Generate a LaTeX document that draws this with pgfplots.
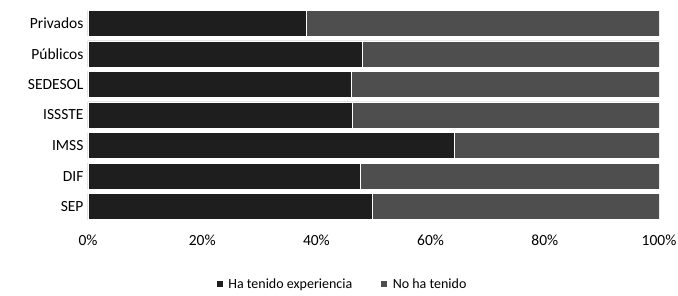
\documentclass[border=0pt]{standalone}
\usepackage{pgfplots}
\pgfplotsset{compat=1.18}
\usepackage{fontspec}
\setmainfont{Carlito}
\definecolor{serA}{HTML}{1E1E1E}
\definecolor{serB}{HTML}{4E4E4E}
\begin{document}
\begin{tikzpicture}
\path[use as bounding box] (-88pt,-74pt) rectangle (590pt,222pt);
\begin{axis}[
  at={(0pt,0pt)}, anchor=south west,
  scale only axis, width=571pt, height=214pt,
  xbar stacked, bar width=26pt,
  xmin=0, xmax=100, ymin=-0.5, ymax=6.5,
  ytick={0,1,2,3,4,5,6},
  yticklabels={SEP,DIF,IMSS,ISSSTE,SEDESOL,Públicos,Privados},
  xtick={0,20,40,60,80,100},
  xticklabels={0\%,20\%,40\%,60\%,80\%,100\%},
  axis line style={draw=none}, tick style={draw=none},
  yticklabel style={font=\fontsize{15.5}{17}\selectfont, xshift=-1pt},
  xticklabel style={font=\fontsize{15.5}{17}\selectfont, yshift=-9pt},
  legend style={at={(0.445,-0.29)}, anchor=center, draw=none, legend columns=2,
    font=\fontsize{14}{16}\selectfont, column sep=3pt,
    /tikz/every even column/.append style={column sep=26pt}},
  legend image code/.code={\fill[#1] (0pt,-3.5pt) rectangle (7pt,3.5pt);},
]
\addplot[fill=serA, draw=white, line width=0.5pt] coordinates {
  (49.7,0) (47.6,1) (64.2,2) (46.3,3) (46.1,4) (48.1,5) (38.3,6)};
\addplot[fill=serB, draw=white, line width=0.5pt] coordinates {
  (50.3,0) (52.4,1) (35.8,2) (53.7,3) (53.9,4) (51.9,5) (61.7,6)};
\legend{Ha tenido experiencia, No ha tenido}
\end{axis}
\end{tikzpicture}
\end{document}
